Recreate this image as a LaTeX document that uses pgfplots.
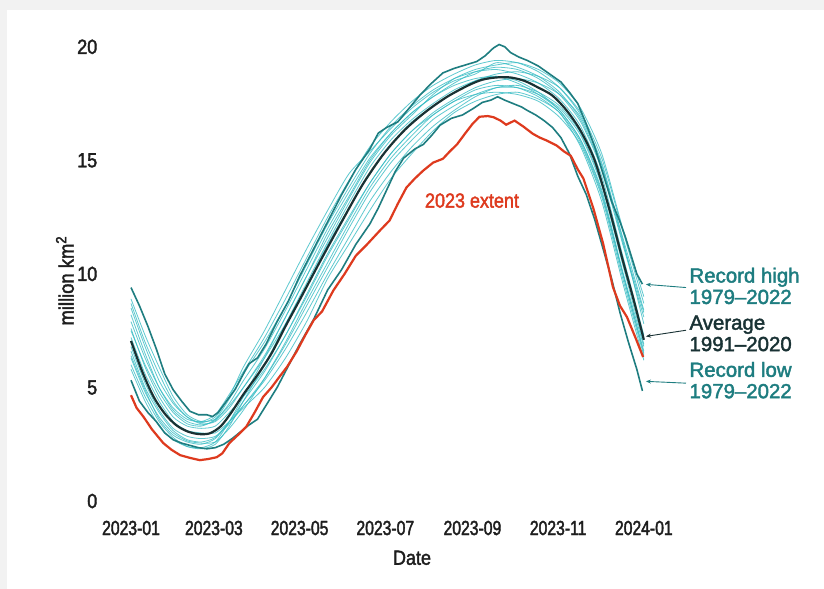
\documentclass[border=0pt]{standalone}
\usepackage{pgfplots}
\pgfplotsset{compat=1.18}
\usepgfplotslibrary{fillbetween}
\usetikzlibrary{arrows.meta}
\usepackage{fontspec}
\setmainfont{Liberation Sans}
\newfontfamily\condfont{Liberation Sans}[FakeStretch=0.77]
\newfontfamily\semicond{Liberation Sans}[FakeStretch=0.88]
% slightly heavier text: fill and stroke the glyphs
\newcommand{\heavy}[1]{\special{pdf:literal direct 2 Tr 0.4 w}#1\special{pdf:literal direct 0 Tr}}

\definecolor{bggray}{RGB}{242,242,242}
\definecolor{gridgray}{RGB}{232,232,232}
\definecolor{axisgray}{RGB}{160,160,160}
\definecolor{recteal}{RGB}{30,125,128}
\definecolor{enscyan}{RGB}{55,188,196}
\definecolor{avgdark}{RGB}{25,50,52}
\definecolor{yrred}{RGB}{222,58,30}
\definecolor{txt}{RGB}{30,30,30}

\begin{document}
\begin{tikzpicture}[x=1bp,y=1bp]
  % background with grey frame on top and left
  \fill[bggray] (0,0) rectangle (824,589);
  \fill[white] (7,0) rectangle (824,579);
  \begin{axis}[
      at={(105bp,80bp)}, anchor=south west,
      scale only axis, width=563bp, height=469bp,
      xmin=-18.5, xmax=382.2, ymin=-0.35, ymax=20.3,
      axis lines*=left,
      axis line style={axisgray, line width=1.2bp},
      clip=false,
      xtick={0,59,120,181,243,304,365},
      xticklabels={\heavy{2023-01},\heavy{2023-03},\heavy{2023-05},\heavy{2023-07},\heavy{2023-09},\heavy{2023-11},\heavy{2024-01}},
      ytick={0,5,10,15,20},
      yticklabels={\heavy{0},\heavy{5},\heavy{10},\heavy{15},\heavy{20}},
      ymajorgrids, grid style={gridgray, line width=1bp},
      x tick style={axisgray, line width=1bp},
      major x tick style={/pgfplots/major tick length=6bp},
      major y tick style={draw=none},
      tick align=outside,
      xticklabel style={font=\condfont\fontsize{20.5}{22}\selectfont, text=txt, yshift=-4bp},
      yticklabel style={font=\semicond\fontsize{20.5}{22}\selectfont, text=txt, xshift=0bp},
    ]
    % envelope of all years
    \addplot[name path=hi, draw=none] coordinates {
      (0,9.4) (6,8.6) (12,7.7) (18,6.7) (24,5.6) (30,4.9) (36,4.4) (42,3.95)
      (48,3.8) (54,3.8) (58,3.72) (62,3.9) (68,4.4) (74,4.9) (80,5.6) (84,6.05)
      (90,6.3) (96,6.9) (104,7.9) (112,8.8) (120,9.9) (130,11.1) (140,12.3)
      (150,13.5) (160,14.6) (170,15.5) (176,16.2) (182,16.45) (190,16.7)
      (198,17.3) (206,17.9) (214,18.4) (222,18.85) (230,19.05) (238,19.2)
      (246,19.35) (252,19.6) (258,19.95) (262,20.1) (266,20.0) (270,19.75)
      (276,19.55) (282,19.4) (290,19.15) (298,18.8) (306,18.45) (312,18.0)
      (318,17.5) (324,16.6) (330,15.6) (336,14.4) (342,13.2) (348,12.3)
      (352,11.6) (356,10.8) (360,10.0) (364,9.55)
    };
    \addplot[name path=lo, draw=none] coordinates {
      (0,5.32) (6,4.4) (12,3.9) (18,3.5) (24,3.0) (30,2.7) (36,2.55) (42,2.45)
      (48,2.35) (54,2.3) (60,2.35) (66,2.5) (72,2.75) (78,3.05) (84,3.35)
      (90,3.6) (96,4.2) (104,5.0) (112,5.95) (120,6.9) (130,8.0) (140,9.3)
      (150,10.2) (160,11.3) (170,12.2) (176,12.9) (182,13.7) (188,14.5)
      (194,15.1) (202,15.5) (208,15.7) (214,16.1) (220,16.55) (228,16.85)
      (236,17.0) (244,17.3) (250,17.55) (256,17.65) (261,17.8) (266,17.65)
      (272,17.5) (278,17.35) (282,17.2) (288,17.0) (294,16.75) (300,16.45)
      (306,16.0) (312,15.3) (318,14.3) (324,13.5) (330,12.4) (336,11.1)
      (342,9.8) (348,8.3) (354,7.0) (360,5.8) (364,4.85)
    };
    \addplot[enscyan, fill opacity=0.45, draw=none] fill between[of=hi and lo];

    % individual years 1979-2022 (a selection)
    \pgfplotsset{ens/.style={enscyan, opacity=0.8, line width=0.8bp, smooth, tension=0.4}}
    \addplot[ens] coordinates {(0,8.2) (10,6.5) (20,5.0) (30,4.0) (40,3.5) (50,3.35) (60,3.55) (70,4.3) (80,5.3) (95,6.7) (110,8.4) (125,10.2) (140,12.0) (155,13.6) (170,15.1) (185,16.2) (200,17.1) (215,17.8) (230,18.4) (245,18.9) (260,19.1) (275,19.0) (290,18.6) (305,17.9) (320,16.7) (335,14.6) (350,11.3) (365,8.1)};
    \addplot[ens] coordinates {(0,6.3) (10,4.8) (20,3.7) (30,3.0) (40,2.65) (50,2.55) (60,2.6) (70,3.2) (80,4.0) (95,5.4) (110,7.0) (125,8.8) (140,10.5) (155,12.2) (170,13.8) (185,15.1) (200,16.1) (215,17.0) (230,17.6) (245,18.1) (260,18.3) (275,18.2) (290,17.8) (305,17.1) (320,15.8) (335,13.5) (350,10.0) (365,6.5)};
    \addplot[ens] coordinates {(0,7.6) (10,5.9) (20,4.6) (30,3.7) (40,3.3) (50,3.2) (60,3.3) (70,3.9) (80,4.6) (95,5.8) (110,7.3) (125,9.1) (140,10.9) (155,12.5) (170,14.0) (185,15.3) (200,16.3) (215,17.1) (230,17.7) (245,18.2) (260,18.5) (275,18.6) (290,18.4) (305,17.9) (320,16.9) (335,14.8) (350,11.4) (365,8.3)};
    \addplot[ens] coordinates {(0,6.0) (10,4.6) (20,3.5) (30,2.8) (40,2.4) (50,2.3) (60,2.5) (70,3.3) (80,4.4) (95,6.0) (110,7.8) (125,9.6) (140,11.4) (155,13.1) (170,14.7) (185,15.9) (200,16.8) (215,17.5) (230,18.1) (245,18.5) (260,18.7) (275,18.5) (290,18.0) (305,17.2) (320,15.9) (335,13.6) (350,10.0) (365,6.6)};
    \addplot[ens] coordinates {(0,8.7) (10,7.0) (20,5.6) (30,4.4) (40,3.7) (50,3.4) (60,3.5) (70,4.1) (80,5.0) (95,6.4) (110,8.1) (125,9.9) (140,11.6) (155,13.3) (170,14.9) (185,16.1) (200,17.0) (215,17.9) (230,18.6) (245,19.0) (260,19.2) (275,19.3) (290,19.0) (305,18.4) (320,17.3) (335,15.3) (350,12.0) (365,9.0)};
    \addplot[ens] coordinates {(0,6.8) (10,5.2) (20,4.0) (30,3.2) (40,2.85) (50,2.75) (60,2.85) (70,3.4) (80,4.2) (95,5.4) (110,6.9) (125,8.6) (140,10.3) (155,12.0) (170,13.6) (185,14.9) (200,15.9) (215,16.8) (230,17.4) (245,17.9) (260,18.2) (275,18.2) (290,17.9) (305,17.3) (320,16.1) (335,13.9) (350,10.4) (365,6.9)};
    \addplot[ens] coordinates {(0,7.5) (10,6.0) (20,4.8) (30,3.9) (40,3.4) (50,3.3) (60,3.6) (70,4.5) (80,5.6) (95,7.0) (110,8.6) (125,10.4) (140,12.2) (155,13.8) (170,15.3) (185,16.5) (200,17.4) (215,18.1) (230,18.6) (245,18.9) (260,19.0) (275,18.8) (290,18.4) (305,17.7) (320,16.5) (335,14.3) (350,10.8) (365,7.3)};
    \addplot[ens] coordinates {(0,6.4) (10,4.9) (20,3.6) (30,2.9) (40,2.6) (50,2.5) (60,2.75) (70,3.5) (80,4.4) (95,5.7) (110,7.3) (125,9.0) (140,10.8) (155,12.4) (170,14.0) (185,15.3) (200,16.3) (215,17.0) (230,17.6) (245,17.9) (260,18.0) (275,17.9) (290,17.6) (305,16.9) (320,15.7) (335,13.4) (350,9.8) (365,6.4)};
    \addplot[ens] coordinates {(0,8.9) (10,7.3) (20,5.9) (30,4.6) (40,3.8) (50,3.5) (60,3.6) (70,4.2) (80,5.0) (95,6.3) (110,7.8) (125,9.5) (140,11.3) (155,12.9) (170,14.4) (185,15.7) (200,16.7) (215,17.4) (230,18.0) (245,18.5) (260,18.8) (275,18.9) (290,18.7) (305,18.2) (320,17.1) (335,15.1) (350,11.9) (365,8.7)};
    \addplot[ens] coordinates {(0,5.8) (10,4.4) (20,3.3) (30,2.7) (40,2.4) (50,2.35) (60,2.6) (70,3.5) (80,4.6) (95,6.3) (110,8.1) (125,9.9) (140,11.8) (155,13.4) (170,15.0) (185,16.2) (200,17.1) (215,17.8) (230,18.3) (245,18.6) (260,18.7) (275,18.4) (290,17.9) (305,17.2) (320,15.9) (335,13.7) (350,10.1) (365,6.8)};
    \addplot[ens] coordinates {(0,7.2) (10,5.6) (20,4.4) (30,3.5) (40,3.1) (50,3.0) (60,3.0) (70,3.5) (80,4.2) (95,5.3) (110,6.7) (125,8.3) (140,10.0) (155,11.6) (170,13.2) (185,14.5) (200,15.6) (215,16.5) (230,17.2) (245,17.8) (260,18.2) (275,18.3) (290,18.0) (305,17.4) (320,16.2) (335,14.0) (350,10.6) (365,7.2)};
    \addplot[ens] coordinates {(0,7.9) (10,6.3) (20,5.0) (30,4.1) (40,3.6) (50,3.5) (60,3.8) (70,4.7) (80,5.7) (95,7.2) (110,8.9) (125,10.7) (140,12.5) (155,14.1) (170,15.6) (185,16.7) (200,17.6) (215,18.3) (230,18.8) (245,19.2) (260,19.4) (275,19.3) (290,18.9) (305,18.2) (320,17.0) (335,14.9) (350,11.5) (365,7.8)};
    \addplot[ens] coordinates {(0,6.6) (10,5.0) (20,3.9) (30,3.1) (40,2.7) (50,2.6) (60,2.8) (70,3.5) (80,4.1) (95,5.0) (110,6.3) (125,7.9) (140,9.8) (155,11.3) (170,12.8) (185,14.2) (200,15.3) (215,16.3) (230,17.1) (245,17.6) (260,17.9) (275,18.0) (290,17.7) (305,17.1) (320,15.6) (335,13.2) (350,9.6) (365,6.2)};
    \addplot[ens] coordinates {(0,8.5) (10,6.8) (20,5.3) (30,4.3) (40,3.7) (50,3.45) (60,3.7) (70,4.6) (80,5.9) (95,7.5) (110,9.3) (125,11.1) (140,12.8) (155,14.4) (170,15.4) (185,16.4) (200,17.3) (215,18.0) (230,18.5) (245,18.8) (260,19.3) (275,19.1) (290,18.7) (305,18.0) (320,16.8) (335,14.7) (350,11.6) (365,8.4)};

    % record high and record low 1979-2022
    \addplot[recteal, line width=1.6bp] coordinates {
      (0,9.4) (6,8.6) (12,7.7) (18,6.7) (24,5.6) (30,4.9) (36,4.4) (42,3.95)
      (48,3.8) (54,3.8) (58,3.72) (62,3.9) (68,4.4) (74,4.9) (80,5.6) (84,6.05)
      (90,6.3) (96,6.9) (104,7.9) (112,8.8) (120,9.9) (130,11.1) (140,12.3)
      (150,13.5) (160,14.6) (170,15.5) (176,16.2) (182,16.45) (190,16.7)
      (198,17.3) (206,17.9) (214,18.4) (222,18.85) (230,19.05) (238,19.2)
      (246,19.35) (252,19.6) (258,19.95) (262,20.1) (266,20.0) (270,19.75)
      (276,19.55) (282,19.4) (290,19.15) (298,18.8) (306,18.45) (312,18.0)
      (318,17.5) (324,16.6) (330,15.6) (336,14.4) (342,13.2) (348,12.3)
      (352,11.6) (356,10.8) (360,10.0) (364,9.55)
    };
    \addplot[recteal, line width=1.6bp] coordinates {
      (0,5.32) (6,4.4) (12,3.9) (18,3.5) (24,3.0) (30,2.7) (36,2.55) (42,2.45)
      (48,2.35) (54,2.3) (60,2.35) (66,2.5) (72,2.75) (78,3.05) (84,3.35)
      (90,3.6) (96,4.2) (104,5.0) (112,5.95) (120,6.9) (130,8.0) (140,9.3)
      (150,10.2) (160,11.3) (170,12.2) (176,12.9) (182,13.7) (188,14.5)
      (194,15.1) (202,15.5) (208,15.7) (214,16.1) (220,16.55) (228,16.85)
      (236,17.0) (244,17.3) (250,17.55) (256,17.65) (261,17.8) (266,17.65)
      (272,17.5) (278,17.35) (282,17.2) (288,17.0) (294,16.75) (300,16.45)
      (306,16.0) (312,15.3) (318,14.3) (324,13.5) (330,12.4) (336,11.1)
      (342,9.8) (348,8.3) (354,7.0) (360,5.8) (364,4.85)
    };

    % 1991-2020 average
    \addplot[avgdark, line width=2.2bp, smooth, tension=0.5] coordinates {
      (0,7.05) (8,5.7) (16,4.6) (24,3.85) (32,3.35) (40,3.07) (48,2.95)
      (56,2.98) (64,3.3) (72,3.95) (80,4.7) (90,5.55) (100,6.5) (110,7.7)
      (120,8.85) (135,10.6) (150,12.3) (165,13.95) (180,15.3) (195,16.35)
      (210,17.15) (225,17.8) (240,18.3) (250,18.55) (260,18.65) (270,18.65)
      (280,18.5) (290,18.2) (300,17.85) (310,17.2) (320,16.3) (330,15.0)
      (340,12.95) (350,10.6) (358,8.8) (365,7.1)
    };

    % 2023
    \addplot[yrred, line width=2.2bp] coordinates {
      (0,4.66) (4,4.1) (9,3.7) (15,3.15) (23,2.55) (29,2.25) (35,2.02) (42,1.9)
      (49,1.8) (55,1.85) (61,1.93) (65,2.1) (70,2.55) (76,2.9) (82,3.27)
      (88,3.9) (94,4.58) (100,5.0) (106,5.5) (111,5.9) (118,6.6) (124,7.3)
      (130,7.96) (136,8.35) (144,9.27) (152,10.0) (160,10.8) (168,11.3)
      (177,11.9) (184,12.35) (190,13.1) (196,13.8) (202,14.2) (208,14.55)
      (215,14.9) (222,15.07) (227,15.4) (232,15.7) (238,16.2) (243,16.6)
      (248,16.92) (254,16.95) (258,16.9) (263,16.75) (267,16.57) (273,16.75)
      (279,16.5) (286,16.17) (291,16.0) (296,15.87) (303,15.65) (308,15.4)
      (313,15.2) (318,14.6) (322,14.2) (329,12.9) (336,11.34) (343,9.42)
      (348,8.6) (353,8.1) (359,7.2) (364.5,6.34)
    };

    % labels
    \node[rotate=90, font=\semicond\fontsize{21}{23}\selectfont, text=txt] at (axis cs:-47,9.7) {\heavy{million km\textsuperscript{2}}};
    \node[font=\semicond\fontsize{20.5}{22}\selectfont, text=txt] at (axis cs:200,-2.5) {\heavy{Date}};
    \node[font=\semicond\fontsize{20.5}{22}\selectfont, text=yrred] at (axis cs:242.7,13.23) {\heavy{2023 extent}};
    \node[anchor=west, align=left, font=\fontsize{20.5}{21.5}\selectfont, text=recteal] at (axis cs:395,9.47) {\heavy{Record high}\\\heavy{1979–2022}};
    \node[anchor=west, align=left, font=\fontsize{20.5}{21.5}\selectfont, text=avgdark] at (axis cs:395,7.38) {\heavy{Average}\\\heavy{1991–2020}};
    \node[anchor=west, align=left, font=\fontsize{20.5}{21.5}\selectfont, text=recteal] at (axis cs:395,5.32) {\heavy{Record low}\\\heavy{1979–2022}};
    \draw[recteal, line width=0.9bp, -{Stealth[length=5bp,width=4bp]}] (axis cs:395,9.4) -- (axis cs:366.5,9.54);
    \draw[avgdark, line width=0.9bp, -{Stealth[length=5bp,width=4bp]}] (axis cs:395,7.52) -- (axis cs:366.5,7.25);
    \draw[recteal, line width=0.9bp, -{Stealth[length=5bp,width=4bp]}] (axis cs:395,5.19) -- (axis cs:366.5,5.27);
  \end{axis}
\end{tikzpicture}
\end{document}
